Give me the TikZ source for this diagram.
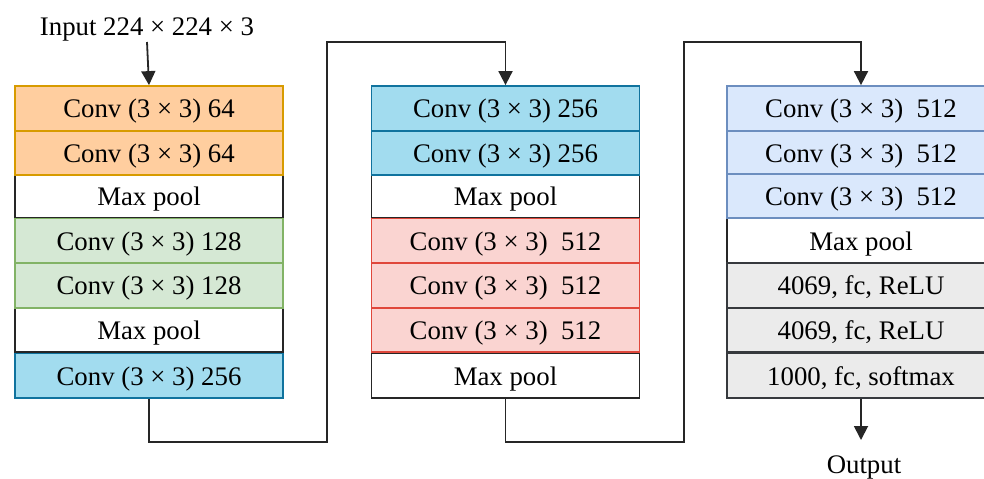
\documentclass[tikz,border=0pt]{standalone}
\usepackage{fontspec}
\setmainfont{Liberation Serif}
\usetikzlibrary{arrows.meta}
\definecolor{orF}{HTML}{FFCE9F}\definecolor{orD}{HTML}{D79B00}
\definecolor{grF}{HTML}{D5E8D4}\definecolor{grD}{HTML}{82B366}
\definecolor{cyF}{HTML}{A2DCEF}\definecolor{cyD}{HTML}{10739E}
\definecolor{blF}{HTML}{DAE8FC}\definecolor{blD}{HTML}{6C8EBF}
\definecolor{rdF}{HTML}{FAD4D1}\definecolor{rdD}{HTML}{E0473B}
\definecolor{gyF}{HTML}{EBEBEB}\definecolor{gyD}{HTML}{36393D}
\tikzset{
  blk/.style={draw, minimum width=134pt, minimum height=22.29pt, inner sep=0pt, line width=0.9pt,
    text height=11pt, text depth=1.5pt, font=\fontsize{13.4}{16}\selectfont},
  orb/.style={blk, fill=orF, draw=orD},
  grb/.style={blk, fill=grF, draw=grD},
  cyb/.style={blk, fill=cyF, draw=cyD},
  blb/.style={blk, fill=blF, draw=blD},
  rdb/.style={blk, fill=rdF, draw=rdD},
  gyb/.style={blk, fill=gyF, draw=gyD},
  wtb/.style={blk, fill=white, draw=black!85},
  lbl/.style={font=\fontsize{13.4}{16}\selectfont, inner sep=1pt},
  conn/.style={line width=0.9pt, black!85},
  arr/.style={conn, -{Triangle[width=7pt,length=7pt]}}
}
\begin{document}
\begin{tikzpicture}[x=0.5pt,y=-0.5pt]
\useasboundingbox (0,0) rectangle (984,478);
% column 1
\node[wtb] (c1r3) at (149,196.1) {Max pool};
\node[wtb] (c1r6) at (149,329.9) {Max pool};
\node[orb] (c1r1) at (149,108.3) {Conv (3 × 3) 64};
\node[orb] (c1r2) at (149,152.9) {Conv (3 × 3) 64};
\node[grb] (c1r4) at (149,240.7) {Conv (3 × 3) 128};
\node[grb] (c1r5) at (149,285.3) {Conv (3 × 3) 128};
\node[cyb] (c1r7) at (149,375.7) {Conv (3 × 3) 256};
% column 2
\node[wtb] (c2r3) at (505.5,196.1) {Max pool};
\node[wtb] (c2r7) at (505.5,375.7) {Max pool};
\node[cyb] (c2r1) at (505.5,108.3) {Conv (3 × 3) 256};
\node[cyb] (c2r2) at (505.5,152.9) {Conv (3 × 3) 256};
\node[rdb] (c2r4) at (505.5,240.7) {Conv (3 × 3)\ \ 512};
\node[rdb] (c2r5) at (505.5,285.3) {Conv (3 × 3)\ \ 512};
\node[rdb] (c2r6) at (505.5,329.9) {Conv (3 × 3)\ \ 512};
% column 3
\node[wtb] (c3r4) at (861,240.7) {Max pool};
\node[blb] (c3r1) at (861,108.3) {Conv (3 × 3)\ \ 512};
\node[blb] (c3r2) at (861,152.9) {Conv (3 × 3)\ \ 512};
\node[blb] (c3r3) at (861,196.1) {Conv (3 × 3)\ \ 512};
\node[gyb] (c3r5) at (861,285.3) {4069, fc, ReLU};
\node[gyb] (c3r6) at (861,329.9) {4069, fc, ReLU};
\node[gyb] (c3r7) at (861,375.7) {1000, fc, softmax};
% input / output
\node[lbl] (in) at (147,29) {Input 224 × 224 × 3};
\node[lbl] (out) at (864,467) {Output};
\coordinate (in0) at (in.south |- 0,42);
\draw[arr] (in0) -- (c1r1.north);
\coordinate (out0) at (c3r7.south |- 0,440);
\draw[arr] (c3r7.south) -- (out0);
% connectors between columns
\coordinate (k1) at (327,442);
\coordinate (k2) at (505.5,42);
\coordinate (k3) at (684,442);
\coordinate (k4) at (861,42);
\draw[arr] (c1r7.south) |- (k1) |- (k2) -- (c2r1.north);
\draw[arr] (c2r7.south) |- (k3) |- (k4) -- (c3r1.north);
\end{tikzpicture}
\end{document}
